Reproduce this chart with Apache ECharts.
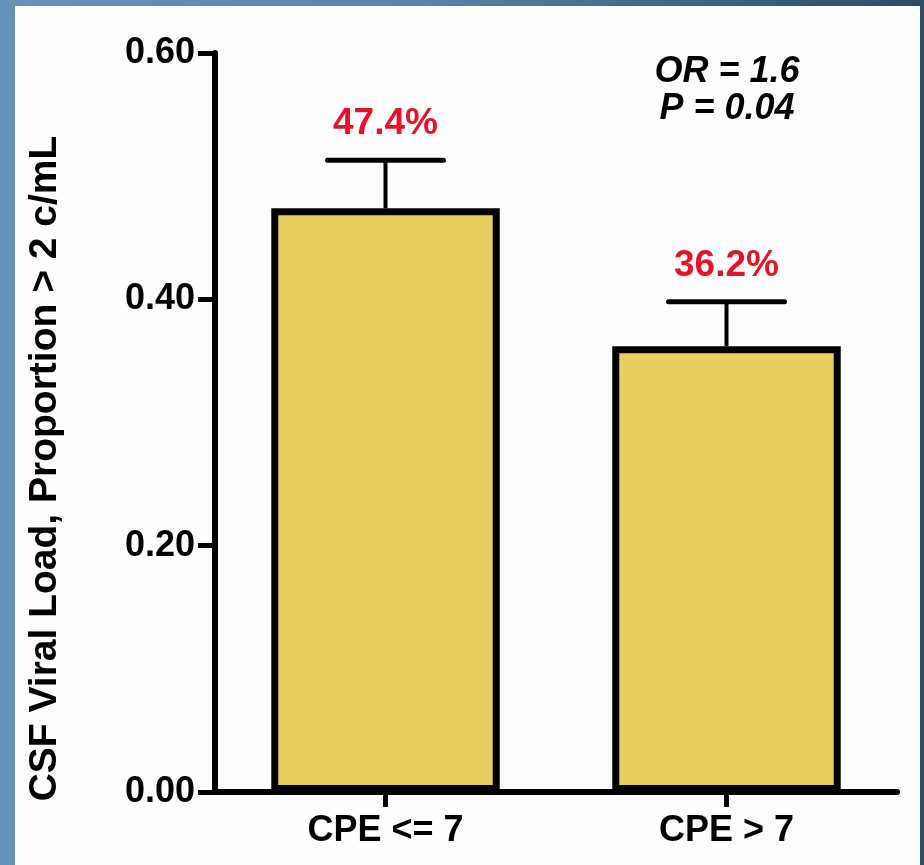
<!DOCTYPE html>
<html>
<head>
<meta charset="utf-8">
<script src="https://cdn.jsdelivr.net/npm/echarts@6/dist/echarts.min.js"></script>
<style>
html,body{margin:0;padding:0;width:924px;height:865px;overflow:hidden;}
body{background:linear-gradient(90deg,#6892b5 0%,#5a84a8 45%,#2b4b68 100%);position:relative;}
#panel{position:absolute;left:15px;top:6px;width:905px;height:859px;background:#fefefe;}
#chart{position:absolute;left:0;top:0;width:924px;height:865px;}
</style>
</head>
<body>
<div id="panel"></div>
<div id="chart"></div>
<script>
const categories = ['CPE <= 7', 'CPE > 7'];
const proportions = [0.474, 0.362];
const errorUpper = [0.513, 0.398];
const valueLabels = ['47.4%', '36.2%'];
const yTicks = [0, 0.2, 0.4, 0.6];
const statLines = ['OR = 1.6', 'P = 0.04'];

const FONT = '"Liberation Sans", Arial, sans-serif';
const chart = echarts.init(document.getElementById('chart'), null, {renderer: 'canvas'});

const errData = categories.map((c, i) => [i, proportions[i], errorUpper[i], valueLabels[i]]);

chart.setOption({
  backgroundColor: 'transparent',
  animation: false,
  grid: {left: 215, right: 27, top: 53, bottom: 73, containLabel: false},
  xAxis: {
    type: 'category',
    data: categories,
    axisLine: {lineStyle: {color: '#000', width: 6}},
    axisTick: {show: true, alignWithLabel: true, length: 15, lineStyle: {color: '#000', width: 5}},
    axisLabel: {color: '#000', fontFamily: FONT, fontWeight: 'bold', fontSize: 36, margin: 21}
  },
  yAxis: {
    type: 'value',
    min: 0, max: 0.6, interval: 0.2,
    name: 'CSF Viral Load, Proportion > 2 c/mL',
    nameLocation: 'middle',
    nameGap: 150,
    nameRotate: 90,
    nameTextStyle: {color: '#000', fontFamily: FONT, fontWeight: 'bold', fontSize: 39, padding: [0, 92, 0, 0]},
    axisLine: {show: true, lineStyle: {color: '#000', width: 6}},
    axisTick: {show: true, length: 17, lineStyle: {color: '#000', width: 5}},
    splitLine: {show: false},
    axisLabel: {
      color: '#000', fontFamily: FONT, fontWeight: 'bold', fontSize: 36, margin: 20,
      formatter: v => yTicks.some(t => Math.abs(t - v) < 1e-9) ? v.toFixed(2) : ''
    }
  },
  series: [
    {
      type: 'bar',
      data: proportions,
      barWidth: '67%',
      itemStyle: {color: '#e8d060', borderColor: '#000', borderWidth: 7},
      z: 2
    },
    {
      type: 'custom',
      data: errData,
      z: 3,
      renderItem: function (params, api) {
        const i = api.value(0);
        const top = api.coord([i, api.value(1)]);
        const up = api.coord([i, api.value(2)]);
        const band = api.size([1, 0])[0];
        const hw = band * 0.17;
        return {
          type: 'group',
          children: [
            {type: 'line', shape: {x1: up[0], y1: top[1], x2: up[0], y2: up[1]}, style: {stroke: '#000', lineWidth: 4}},
            {type: 'line', shape: {x1: up[0] - hw, y1: up[1], x2: up[0] + hw, y2: up[1]}, style: {stroke: '#000', lineWidth: 5, lineCap: 'round'}},
            {type: 'text', x: up[0], y: up[1] - 36, style: {text: valueLabels[params.dataIndex], fill: '#e3132b', font: 'bold 37px ' + FONT, textAlign: 'center', textVerticalAlign: 'middle'}}
          ]
        };
      }
    }
  ],
  graphic: [
    {type: 'text', x: 727, y: 72, style: {text: statLines[0], fill: '#000', font: 'italic bold 36px ' + FONT, textAlign: 'center', textVerticalAlign: 'middle'}},
    {type: 'text', x: 727, y: 109, style: {text: statLines[1], fill: '#000', font: 'italic bold 36px ' + FONT, textAlign: 'center', textVerticalAlign: 'middle'}}
  ]
});
</script>
</body>
</html>
